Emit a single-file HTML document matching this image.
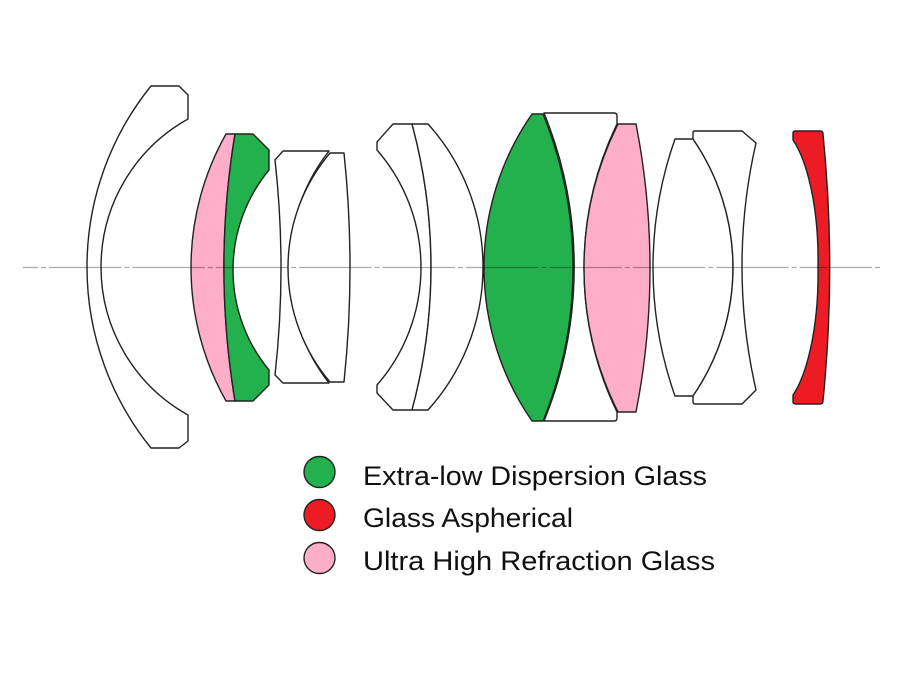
<!DOCTYPE html>
<html>
<head>
<meta charset="utf-8">
<style>
  html,body{margin:0;padding:0;background:#fff;}
  svg{display:block;}
</style>
</head>
<body>
<svg width="900" height="674" viewBox="0 0 900 674" xmlns="http://www.w3.org/2000/svg">
  <rect width="900" height="674" fill="#fff"/>
  <g stroke="#222" stroke-width="1.4" stroke-linejoin="round">
    <!-- Lens 1: big front meniscus -->
    <path fill="#fff" d="M151,86 L179,86 L188,95 L188,119 A169.4,169.4 0 0 0 188,415 L188,441 L179,448 L151,448 A287.9,287.9 0 0 1 151,86 Z"/>
    <!-- Lens 2a pink -->
    <path fill="#FFAEC9" d="M226,134 L235,134 A815.6,815.6 0 0 0 235,401 L226,401 A272.1,272.1 0 0 1 226,134 Z"/>
    <!-- Lens 2b green -->
    <path fill="#22B14C" d="M235,134 L253,134 L269,150 L269,170 A156.9,156.9 0 0 0 269,370 L269,385 L253,401 L235,401 A815.6,815.6 0 0 1 235,134 Z"/>
    <!-- Lens 3 -->
    <path fill="#fff" d="M275,160 L283,151 L329,151 A188.2,188.2 0 0 0 329,383 L283,383 L275,375 A966,966 0 0 0 275,160 Z"/>
    <!-- Lens 4 -->
    <path fill="#fff" d="M330,153 L344,153 A1095.5,1095.5 0 0 1 344,382 L330,382 A177.1,177.1 0 0 1 330,153 Z"/>
    <!-- Lens 5 left -->
    <path fill="#fff" d="M377,142 L393,124 L412,124 A547.6,547.6 0 0 1 412,410 L393,410 L377,393 L377,385 A178.9,178.9 0 0 0 377,150 Z"/>
    <!-- Lens 5 right -->
    <path fill="#fff" d="M412,124 L428,124 A213.4,213.4 0 0 1 428,410 L412,410 A547.6,547.6 0 0 0 412,124 Z"/>
    <!-- Lens 6 green biconvex -->
    <path fill="#22B14C" d="M532,114 L543,114 A407.7,407.7 0 0 1 543,421 L532,421 A269.4,269.4 0 0 1 532,114 Z"/>
    <!-- Lens 7 white -->
    <path fill="#fff" d="M544,113 L614,113 Q617,113 617,116 L617,124 A330.7,330.7 0 0 0 617,412 L617,418 Q617,421 614,421 L544,421 A407.7,407.7 0 0 0 544,113 Z"/>
    <!-- Lens 8 pink -->
    <path fill="#FFAEC9" d="M618,124 L636,124 A747.6,747.6 0 0 1 636,412 L618,412 A321.9,321.9 0 0 1 618,124 Z"/>
    <!-- Lens 9 -->
    <path fill="#fff" d="M675,139 L693,139 A226.4,226.4 0 0 1 693,396 L675,396 A386.3,386.3 0 0 1 675,139 Z"/>
    <!-- Lens 10 -->
    <path fill="#fff" d="M693,139 L693,133 Q693,131 695,131 L742,131 L756,143 A551.7,551.7 0 0 0 756,390 L742,404 L695,404 Q693,404 693,402 L693,396 A226.4,226.4 0 0 0 693,139 Z"/>
    <!-- Red aspheric -->
    <path fill="#ED1C24" d="M793,140 L793,133 Q793,131 796,131 L820,131 Q823,131 823,134 A1334,1334 0 0 1 823,401 Q823,404 820,404 L796,404 Q793,404 793,402 L793,395 C806,376 819,330 818,267 C819,204 806,159 793,140 Z"/>
  </g>
  <!-- optical axis -->
  <line x1="23" y1="267.5" x2="880" y2="267.5" stroke="#000" stroke-opacity="0.33" stroke-width="1.3" stroke-dasharray="72.4 3 5 3" stroke-dashoffset="57.4"/>

  <!-- Legend -->
  <g stroke="#222" stroke-width="1.4">
    <circle cx="319.5" cy="472" r="15.5" fill="#22B14C"/>
    <circle cx="319.5" cy="515" r="15.5" fill="#ED1C24"/>
    <circle cx="319.5" cy="558" r="15.5" fill="#FFAEC9"/>
  </g>
  <g font-family="Liberation Sans, Arial, sans-serif" font-size="27" fill="#111">
    <text x="363" y="485" textLength="344" lengthAdjust="spacingAndGlyphs">Extra-low Dispersion Glass</text>
    <text x="363" y="527" textLength="210" lengthAdjust="spacingAndGlyphs">Glass Aspherical</text>
    <text x="363" y="570" textLength="352" lengthAdjust="spacingAndGlyphs">Ultra High Refraction Glass</text>
  </g>
</svg>
</body>
</html>
